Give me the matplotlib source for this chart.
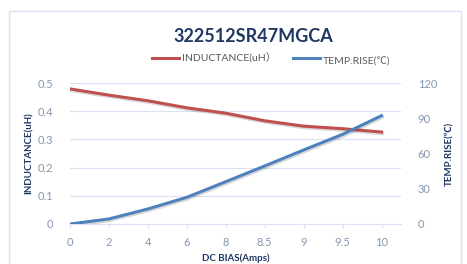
import matplotlib.pyplot as plt
import matplotlib.patheffects as pe
from matplotlib.patches import Rectangle

# data
bias_labels = ['0', '2', '4', '6', '8', '8.5', '9', '9.5', '10']
inductance = [0.479, 0.457, 0.437, 0.412, 0.393, 0.366, 0.347, 0.338, 0.326]
temp_rise = [0, 4.3, 12.8, 22.7, 36, 49.4, 63, 76.3, 92.2]

fonts = ['Lato', 'Noto Sans CJK SC', 'DejaVu Sans']
plt.rcParams['font.family'] = fonts

red = '#C0504D'
blue = '#4F81BD'
tick_col = '#8497B0'
dark = '#1F3864'
grid_col = '#D9E1F2'

fig = plt.figure(figsize=(4.67, 2.64), dpi=100)
fig.patches.append(Rectangle((9 / 467, -0.1), 452 / 467, 1.1 - 11 / 264,
                             transform=fig.transFigure, fill=False,
                             edgecolor='#DAE3F3', linewidth=1))

ax = fig.add_axes([70 / 467, 1 - 224 / 264, 331 / 467, 141 / 264])
ax2 = ax.twinx()

x = list(range(len(bias_labels)))
shadow = [pe.SimpleLineShadow(offset=(0.8, -1.2), alpha=0.15), pe.Normal()]
ax.plot(x, inductance, color=red, linewidth=2.2, path_effects=shadow, zorder=3)
ax2.plot(x, temp_rise, color=blue, linewidth=2.2, path_effects=shadow, zorder=3)

ax.set_xlim(0, 8.5)
ax.set_ylim(0, 0.5)
ax2.set_ylim(0, 120)
ax.set_yticks([0, 0.1, 0.2, 0.3, 0.4, 0.5])
ax.set_yticklabels(['0', '0.1', '0.2', '0.3', '0.4', '0.5'])
ax2.set_yticks([0, 30, 60, 90, 120])
ax.set_xticks(x)
ax.set_xticklabels(bias_labels)

ax.grid(axis='y', color=grid_col, linewidth=0.8)
ax.set_axisbelow(True)
for a in (ax, ax2):
    for s in a.spines.values():
        s.set_visible(False)
ax.spines['bottom'].set_visible(True)
ax.spines['bottom'].set_color(grid_col)

ax.tick_params(axis='y', length=0, pad=12, labelsize=8, labelcolor=tick_col)
ax2.tick_params(axis='y', length=0, pad=12, labelsize=8, labelcolor=tick_col)
ax.tick_params(axis='x', length=3, color=grid_col, pad=6, labelsize=8,
               labelcolor=tick_col)

ax.set_ylabel('INDUCTANCE(uH)', fontsize=7, fontweight='bold', color=dark,
              labelpad=3)
ax2.set_ylabel('TEMP.RISE(℃)', fontsize=7, fontweight='bold', color=dark,
               labelpad=6)
ax.set_xlabel('DC BIAS(Amps)', fontsize=7, fontweight='bold', color=dark,
              labelpad=4)

fig.text(253 / 467, 1 - 36 / 264, '322512SR47MGCA', ha='center', va='center',
         fontsize=13, fontweight='bold', color=dark)

# legend
ly = 1 - 58 / 264
fig.lines.append(plt.Line2D([152 / 467, 179 / 467], [ly, ly], color=red,
                            linewidth=2.2, transform=fig.transFigure))
fig.text(182 / 467, ly, 'INDUCTANCE(uH）', ha='left', va='center',
         fontsize=7.5, color='#595959')
fig.lines.append(plt.Line2D([293 / 467, 320 / 467], [ly, ly], color=blue,
                            linewidth=2.2, transform=fig.transFigure))
fig.text(323 / 467, ly - 0.01, 'TEMP.RISE(℃)', ha='left', va='center',
         fontsize=7.5, color='#595959')

fig.savefig('out.png', dpi=100)
